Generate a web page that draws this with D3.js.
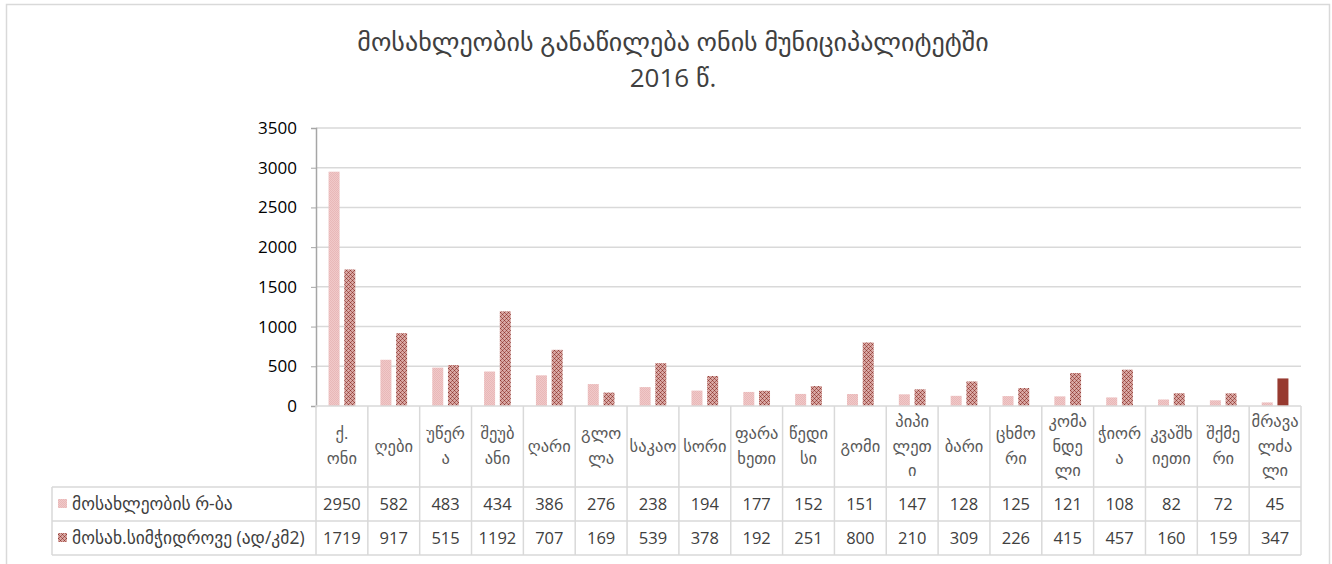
<!DOCTYPE html>
<html>
<head>
<meta charset="utf-8">
<title>Oni population</title>
<script src="https://d3js.org/d3.v7.min.js"></script>
<style>
  body { margin: 0; background: #fff; }
  svg { display: block; }
  text { font-family: "Open Sans", "DejaVu Sans", sans-serif; }
</style>
</head>
<body>
<script>
// category names, "\n" = where the label wraps in its cell
var categories = ["ქ.\nონი", "ღები", "უწერ\nა", "შეუბ\nანი", "ღარი", "გლო\nლა", "საკაო", "სორი",
  "ფარა\nხეთი", "წედი\nსი", "გომი", "პიპი\nლეთ\nი", "ბარი", "ცხმო\nრი", "კომა\nნდე\nლი",
  "ჭიორ\nა", "კვაშხ\nიეთი", "შქმე\nრი", "მრავა\nლძა\nლი"];

var seriesNames = ["მოსახლეობის რ-ბა", "მოსახ.სიმჭიდროვე (ად/კმ2)"];

var population = [2950, 582, 483, 434, 386, 276, 238, 194, 177, 152, 151, 147, 128, 125, 121, 108, 82, 72, 45];
var density = [1719, 917, 515, 1192, 707, 169, 539, 378, 192, 251, 800, 210, 309, 226, 415, 457, 160, 159, 347];

var yTicks = [0, 500, 1000, 1500, 2000, 2500, 3000, 3500];

var titleLines = ["მოსახლეობის განაწილება ონის მუნიციპალიტეტში", "2016 წ."];

// layout
var W = 1332, H = 564;
var plotL = 316, plotR = 1301, plotT = 128, plotB = 406;
var headB = 487, row1B = 521, row2B = 555, tableL = 52;
var grid = "#d9d9d9";

var svg = d3.select("body").append("svg")
  .attr("width", W)
  .attr("height", H);

// patterns for the bars
var defs = svg.append("defs");
var p1 = defs.append("pattern").attr("id", "pPop")
  .attr("patternUnits", "userSpaceOnUse").attr("width", 2).attr("height", 2);
p1.append("rect").attr("width", 2).attr("height", 2).attr("fill", "#f1c9c9");
p1.append("rect").attr("width", 1).attr("height", 1).attr("fill", "#e8b8b8");
p1.append("rect").attr("x", 1).attr("y", 1).attr("width", 1).attr("height", 1).attr("fill", "#e8b8b8");

var p2 = defs.append("pattern").attr("id", "pDen")
  .attr("patternUnits", "userSpaceOnUse").attr("width", 4).attr("height", 4);
p2.append("rect").attr("width", 4).attr("height", 4).attr("fill", "#d8a8a4");
[[0, 0], [2, 2], [1, 1], [3, 3], [3, 1], [1, 3]].forEach(function(c, i) {
  p2.append("rect").attr("x", c[0]).attr("y", c[1]).attr("width", 1).attr("height", 1)
    .attr("fill", i < 2 ? "#8e3c36" : "#b0625c");
});

// outer frame
svg.append("rect")
  .attr("x", 6.5).attr("y", 4.5)
  .attr("width", 1323).attr("height", 600)
  .attr("fill", "none").attr("stroke", grid).attr("stroke-width", 1.5);

// title
svg.append("g")
  .selectAll("text")
  .data(titleLines)
  .enter().append("text")
  .attr("x", 673)
  .attr("y", function(d, i) { return 51 + i * 36; })
  .attr("text-anchor", "middle")
  .attr("font-size", 26)
  .attr("fill", "#404040")
  .text(function(d) { return d; });

// scales
var x = d3.scaleBand()
  .domain(d3.range(categories.length))
  .range([plotL, plotR]);

var y = d3.scaleLinear()
  .domain([0, 3500])
  .range([plotB, plotT]);

var x1 = d3.scaleBand()
  .domain([0, 1])
  .range([0, x.bandwidth()])
  .paddingInner(0.3)
  .paddingOuter(0.8);

// gridlines
svg.append("g")
  .selectAll("line")
  .data(yTicks.slice(1))
  .enter().append("line")
  .attr("x1", plotL).attr("x2", plotR)
  .attr("y1", function(d) { return y(d); })
  .attr("y2", function(d) { return y(d); })
  .attr("stroke", grid).attr("stroke-width", 1.5);

// y axis
var yAxis = svg.append("g")
  .attr("transform", "translate(" + plotL + ",0)")
  .call(d3.axisLeft(y).tickValues(yTicks).tickFormat(d3.format("d")).tickSize(5).tickPadding(14));
yAxis.select(".domain").attr("stroke", "#a6a6a6").attr("stroke-width", 1.5);
yAxis.selectAll(".tick line").attr("stroke", "#a6a6a6");
yAxis.selectAll("text")
  .attr("font-size", 17)
  .attr("fill", "#000");

// bars
var seriesData = [population, density];
var fills = ["url(#pPop)", "url(#pDen)"];
seriesData.forEach(function(vals, s) {
  svg.append("g")
    .selectAll("rect")
    .data(vals)
    .enter().append("rect")
    .attr("x", function(d, i) { return x(i) + x1(s); })
    .attr("width", x1.bandwidth())
    .attr("y", function(d) { return y(d); })
    .attr("height", function(d) { return plotB - y(d); })
    .attr("fill", function(d, i) {
      // last density bar is drawn solid in the source
      if (s === 1 && i === vals.length - 1) return "#973a30";
      return fills[s];
    });
});

// horizontal axis line
svg.append("line")
  .attr("x1", plotL).attr("x2", plotR)
  .attr("y1", plotB).attr("y2", plotB)
  .attr("stroke", grid).attr("stroke-width", 1.5);

// data table: vertical lines
var vx = d3.range(categories.length + 1).map(function(i) {
  return i < categories.length ? x(i) : plotR;
});
svg.append("g")
  .selectAll("line")
  .data(vx)
  .enter().append("line")
  .attr("x1", function(d) { return d; })
  .attr("x2", function(d) { return d; })
  .attr("y1", plotB)
  .attr("y2", row2B)
  .attr("stroke", grid).attr("stroke-width", 1.5);

// horizontal lines of table
[headB, row1B, row2B].forEach(function(yy) {
  svg.append("line")
    .attr("x1", tableL).attr("x2", plotR)
    .attr("y1", yy).attr("y2", yy)
    .attr("stroke", grid).attr("stroke-width", 1.5);
});
svg.append("line")
  .attr("x1", tableL).attr("x2", tableL)
  .attr("y1", headB).attr("y2", row2B)
  .attr("stroke", grid).attr("stroke-width", 1.5);

// category labels
var lineH = 24.5;
var cat = svg.append("g")
  .selectAll("text")
  .data(categories)
  .enter().append("text")
  .attr("text-anchor", "middle")
  .attr("font-size", 16.5)
  .attr("fill", "#595959");
cat.each(function(d, i) {
  var lines = d.split("\n");
  var cx = x(i) + x.bandwidth() / 2;
  var y0 = (plotB + headB) / 2 - (lines.length - 1) * lineH / 2 + 5;
  d3.select(this).selectAll("tspan")
    .data(lines)
    .enter().append("tspan")
    .attr("x", cx)
    .attr("y", function(l, j) { return y0 + j * lineH; })
    .text(function(l) { return l; });
});

// value rows
var rowMid = [(headB + row1B) / 2, (row1B + row2B) / 2];
seriesData.forEach(function(vals, s) {
  svg.append("g")
    .selectAll("text")
    .data(vals)
    .enter().append("text")
    .attr("x", function(d, i) { return x(i) + x.bandwidth() / 2; })
    .attr("y", rowMid[s] + 6)
    .attr("text-anchor", "middle")
    .attr("font-size", 16.5)
    .attr("fill", "#404040")
    .text(function(d) { return d; });

  // legend key + series name
  svg.append("rect")
    .attr("x", 58).attr("y", rowMid[s] - 5)
    .attr("width", 9).attr("height", 9)
    .attr("fill", fills[s]);
  svg.append("text")
    .attr("x", 72).attr("y", rowMid[s] + 6)
    .attr("font-size", 17.5)
    .attr("fill", "#404040")
    .text(seriesNames[s]);
});
</script>
</body>
</html>
